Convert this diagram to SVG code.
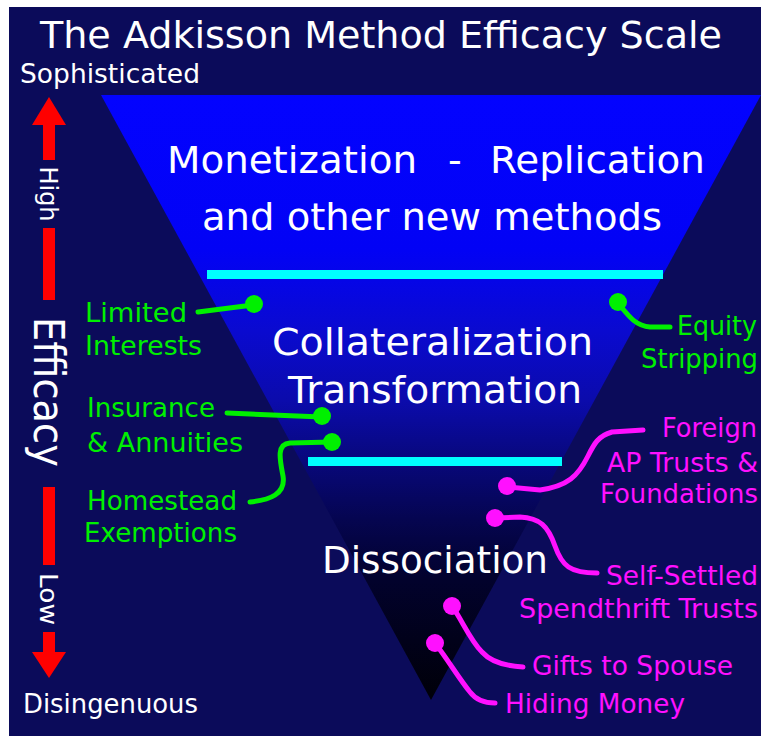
<svg xmlns="http://www.w3.org/2000/svg" width="765" height="742" viewBox="0 0 765 742">
  <defs>
    <linearGradient id="funnelFill" gradientUnits="userSpaceOnUse" x1="0" y1="95" x2="0" y2="700">
      <stop offset="0" stop-color="#0303ff"/>
      <stop offset="0.256" stop-color="#0202f5"/>
      <stop offset="0.388" stop-color="#0a0ad0"/>
      <stop offset="0.504" stop-color="#0b0bac"/>
      <stop offset="0.603" stop-color="#08087c"/>
      <stop offset="0.702" stop-color="#050550"/>
      <stop offset="0.802" stop-color="#02022c"/>
      <stop offset="1" stop-color="#000008"/>
    </linearGradient>
    <style>
      text { font-family: "DejaVu Sans", Verdana, sans-serif; }
      .title { fill: #ffffff; font-size: 38px; }
      .pole { fill: #ffffff; font-size: 26px; }
      .tier { fill: #ffffff; font-size: 38px; }
      .axis { fill: #ffffff; font-size: 24px; }
      .green { fill: #00f000; font-size: 27px; }
      .pink { fill: #ff10ff; font-size: 27px; }
      .lead-g { fill: none; stroke: #00f000; stroke-width: 5; stroke-linecap: round; stroke-linejoin: round; }
      .lead-p { fill: none; stroke: #ff10ff; stroke-width: 5; stroke-linecap: round; stroke-linejoin: round; }
      .dot-g { fill: #00f000; }
      .dot-p { fill: #ff10ff; }
      .bar { fill: #00ffff; }
      .arrow { fill: #ff0000; }
    </style>
  </defs>

  <!-- frame and backdrop -->
  <rect x="0" y="0" width="765" height="742" fill="#ffffff"/>
  <rect x="9" y="7" width="752" height="729" fill="#0b0b5a"/>

  <!-- inverted funnel -->
  <g id="funnel">
    <polygon points="101,95 761,95 431,700" fill="url(#funnelFill)"/>
    <rect class="bar" x="207" y="270" width="456" height="9"/>
    <rect class="bar" x="308" y="457" width="254" height="9"/>
  </g>

  <!-- heading -->
  <g id="title">
    <text class="title" x="40" y="48" textLength="682" lengthAdjust="spacingAndGlyphs">The Adkisson Method Efficacy Scale</text>
  </g>

  <!-- efficacy axis -->
  <g id="axis">
    <text class="pole" x="20" y="83" textLength="180" lengthAdjust="spacingAndGlyphs">Sophisticated</text>
    <text class="pole" x="23" y="713" textLength="175" lengthAdjust="spacingAndGlyphs">Disingenuous</text>
    <polygon class="arrow" points="49,97 32,125 66,125"/>
    <rect class="arrow" x="43" y="124" width="12" height="36"/>
    <rect class="arrow" x="43" y="228" width="12" height="72"/>
    <rect class="arrow" x="43" y="487" width="12" height="78"/>
    <rect class="arrow" x="43" y="632" width="12" height="22"/>
    <polygon class="arrow" points="32,652 66,652 49,678"/>
    <text class="axis" transform="translate(40,194) rotate(90)" text-anchor="middle" textLength="55" lengthAdjust="spacingAndGlyphs">High</text>
    <text class="tier" style="font-size:42px" transform="translate(34,392) rotate(90)" text-anchor="middle" textLength="150" lengthAdjust="spacingAndGlyphs">Efficacy</text>
    <text class="axis" transform="translate(40,599) rotate(90)" text-anchor="middle" textLength="52" lengthAdjust="spacingAndGlyphs">Low</text>
  </g>

  <!-- tiers -->
  <g id="tier-monetization">
    <text class="tier" x="167" y="173" textLength="250" lengthAdjust="spacingAndGlyphs">Monetization</text>
    <text class="tier" x="448" y="173">-</text>
    <text class="tier" x="490" y="173" textLength="215" lengthAdjust="spacingAndGlyphs">Replication</text>
    <text class="tier" x="202" y="230" textLength="460" lengthAdjust="spacingAndGlyphs">and other new methods</text>
  </g>
  <g id="tier-collateralization">
    <text class="tier" x="272" y="355" textLength="321" lengthAdjust="spacingAndGlyphs">Collateralization</text>
    <text class="tier" x="288" y="403" textLength="294" lengthAdjust="spacingAndGlyphs">Transformation</text>
  </g>
  <g id="tier-dissociation">
    <text class="tier" x="322" y="573" textLength="226" lengthAdjust="spacingAndGlyphs">Dissociation</text>
  </g>

  <!-- leader lines -->
  <g id="connectors">
    <path class="lead-g" d="M198,312 L253,305"/>
    <path class="lead-g" d="M227,413 L322,417"/>
    <path class="lead-g" d="M332,442 L290,443 C276,444 280,460 283,476 C286,494 270,500 250,502"/>
    <path class="lead-g" d="M618,303 C628,315 635,326 650,327 L670,327"/>
    <path class="lead-p" d="M643,430 L612,432 C598,436 594,444 588,456 C578,476 568,486 540,490 L507,487"/>
    <path class="lead-p" d="M495,518 L520,517 C540,518 548,526 555,546 C562,566 570,573 597,573"/>
    <path class="lead-p" d="M452,606 C462,620 470,640 482,652 C490,661 505,666 523,667"/>
    <path class="lead-p" d="M435,643 C448,660 460,680 470,692 C476,700 485,703 495,703"/>
  </g>

  <!-- strategy labels -->
  <g id="limited-interests">
    <circle class="dot-g" cx="254" cy="304" r="9"/>
    <text class="green" x="85" y="322" textLength="102" lengthAdjust="spacingAndGlyphs">Limited</text>
    <text class="green" x="85" y="355" textLength="117" lengthAdjust="spacingAndGlyphs">Interests</text>
  </g>
  <g id="insurance-annuities">
    <circle class="dot-g" cx="322" cy="416" r="9"/>
    <text class="green" x="87" y="417" textLength="128" lengthAdjust="spacingAndGlyphs">Insurance</text>
    <text class="green" x="87" y="452" textLength="156" lengthAdjust="spacingAndGlyphs">&amp; Annuities</text>
  </g>
  <g id="homestead-exemptions">
    <circle class="dot-g" cx="332" cy="442" r="9"/>
    <text class="green" x="87" y="510" textLength="150" lengthAdjust="spacingAndGlyphs">Homestead</text>
    <text class="green" x="84" y="542" textLength="153" lengthAdjust="spacingAndGlyphs">Exemptions</text>
  </g>
  <g id="equity-stripping">
    <circle class="dot-g" cx="618" cy="302" r="9"/>
    <text class="green" x="677" y="335" textLength="80" lengthAdjust="spacingAndGlyphs">Equity</text>
    <text class="green" x="641" y="368" textLength="117" lengthAdjust="spacingAndGlyphs">Stripping</text>
  </g>
  <g id="foreign-trusts">
    <circle class="dot-p" cx="507" cy="486" r="9"/>
    <text class="pink" x="662" y="437" textLength="95" lengthAdjust="spacingAndGlyphs">Foreign</text>
    <text class="pink" x="607" y="472" textLength="151" lengthAdjust="spacingAndGlyphs">AP Trusts &amp;</text>
    <text class="pink" x="600" y="503" textLength="158" lengthAdjust="spacingAndGlyphs">Foundations</text>
  </g>
  <g id="spendthrift-trusts">
    <circle class="dot-p" cx="495" cy="518" r="9"/>
    <text class="pink" x="606" y="585" textLength="152" lengthAdjust="spacingAndGlyphs">Self-Settled</text>
    <text class="pink" x="519" y="618" textLength="239" lengthAdjust="spacingAndGlyphs">Spendthrift Trusts</text>
  </g>
  <g id="gifts-to-spouse">
    <circle class="dot-p" cx="452" cy="606" r="9"/>
    <text class="pink" x="532" y="675" textLength="201" lengthAdjust="spacingAndGlyphs">Gifts to Spouse</text>
  </g>
  <g id="hiding-money">
    <circle class="dot-p" cx="435" cy="643" r="9"/>
    <text class="pink" x="505" y="713" textLength="180" lengthAdjust="spacingAndGlyphs">Hiding Money</text>
  </g>
</svg>
